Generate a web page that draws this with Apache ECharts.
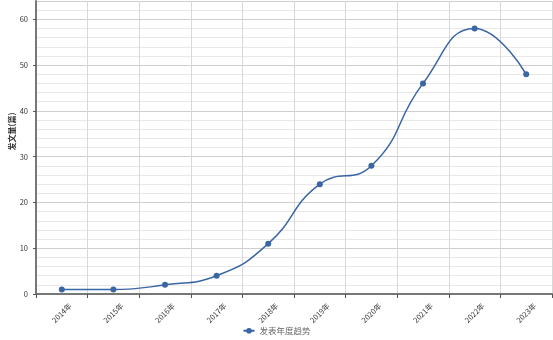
<!DOCTYPE html>
<html><head><meta charset="utf-8">
<script src="https://cdn.jsdelivr.net/npm/echarts@6/dist/echarts.min.js"></script>
<style>html,body{margin:0;padding:0;background:#fff}#c{width:553px;height:340px}</style>
</head><body><div id="c"></div>
<script>
const categories = ['2014年','2015年','2016年','2017年','2018年','2019年','2020年','2021年','2022年','2023年'];
const values = [1, 1, 2, 4, 11, 24, 28, 46, 58, 48];
const seriesName = '发表年度趋势';
const yName = '发文量(篇)';
const chart = echarts.init(document.getElementById('c'));
chart.setOption({
  animation: false,
  textStyle: {fontFamily: '"Noto Sans CJK SC", "Noto Sans", sans-serif'},
  grid: {left: 36, right: 1, top: 1, bottom: 46, containLabel: false, outerBoundsMode: 'none'},
  legend: {
    bottom: 0, left: 'center', itemWidth: 11, itemHeight: 7, itemGap: 4,
    textStyle: {fontSize: 8.5, color: '#666'},
    data: [seriesName]
  },
  xAxis: {
    type: 'category', data: categories, boundaryGap: true,
    axisLine: {lineStyle: {color: '#777', width: 2}},
    axisTick: {show: true, lineStyle: {color: '#555'}, length: 4},
    axisLabel: {rotate: 45, fontSize: 7.5, color: '#333', margin: 19, align: 'center', verticalAlign: 'middle'},
    splitLine: {show: true, lineStyle: {color: '#d8d8d8', width: 1}}
  },
  yAxis: {
    type: 'value', min: 0, max: 64, interval: 10,
    name: yName, nameLocation: 'middle', nameGap: 20, nameRotate: 90, nameMoveOverlap: false,
    nameTextStyle: {fontSize: 8, color: '#333', fontWeight: 'bold', padding: [0, 0, 0, 32]},
    axisLine: {show: true, lineStyle: {color: '#777', width: 2}},
    axisTick: {show: true, length: 3, lineStyle: {color: '#555'}},
    axisLabel: {fontSize: 7.5, color: '#333', showMaxLabel: false},
    splitLine: {show: true, lineStyle: {color: '#cfcfcf', width: 1}},
    minorTick: {show: false, splitNumber: 5},
    minorSplitLine: {show: true, lineStyle: {color: '#e8e8e8', width: 1}}
  },
  series: [{
    name: seriesName, type: 'line', data: values, smooth: true,
    symbol: 'circle', symbolSize: 6,
    itemStyle: {color: '#3a66a3'},
    lineStyle: {color: '#3a66a3', width: 1.5}
  }]
});
</script></body></html>
